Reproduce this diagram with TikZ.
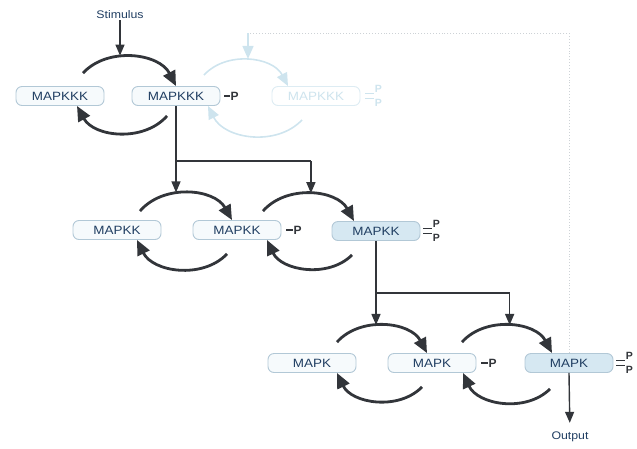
\documentclass[tikz,border=0pt]{standalone}
\usepackage{fontspec}
\setmainfont{Liberation Sans}
\newfontfamily\boxfont[FakeStretch=1.12]{Liberation Sans}
\usepackage{tikz}
\usetikzlibrary{arrows.meta, positioning, calc}
\definecolor{cText}{RGB}{32,62,98}
\definecolor{cEdge}{RGB}{178,200,214}
\definecolor{cFill}{RGB}{246,250,252}
\definecolor{cPhos}{RGB}{214,232,242}
\definecolor{cArc}{RGB}{50,53,58}
\definecolor{cFade}{RGB}{206,228,238}
\definecolor{cDot}{RGB}{205,210,214}
\tikzset{
	kinase/.style  ={rectangle, rounded corners=6pt, draw=cEdge, line width=0.9pt, fill=cFill, minimum width=88pt, minimum height=19pt, inner sep=0pt, text=cText, font=\boxfont\fontsize{12}{12}\selectfont},
	active/.style  ={kinase, fill=cPhos},
	faded/.style   ={kinase, draw=cFade!70, fill=white, text=cFade},
	cycarrow/.style={-{Triangle[length=15pt,width=13pt]}, line width=2.8pt, cArc, bend left=55},
	sig/.style     ={-{Triangle[length=11pt,width=9pt]}, line width=1.4pt, cArc},
	wire/.style    ={line width=1.4pt, cArc},
	bond/.style    ={line width=1.6pt, cArc},
	phos/.style    ={inner sep=0pt, text=cArc, font=\fontsize{12}{12}\selectfont\bfseries},
	diphos/.style  ={inner sep=0pt, text=cArc, font=\fontsize{10.5}{10.5}\selectfont\bfseries},
	tag/.style     ={inner sep=1pt, text=cText, font=\boxfont\fontsize{11}{11}\selectfont},
	% faint feedback part
	fadearrow/.style={-{Triangle[length=13pt,width=11pt]}, line width=1.6pt, cFade, bend left=55},
	feedback/.style ={cDot, line width=0.9pt, dotted},
}
\begin{document}
\begin{tikzpicture}[x=1pt, y=1pt]
	\useasboundingbox (0,0) rectangle (637,-448);

	% MAPKKK level
	\node[tag] (stim) at (120,-15) {Stimulus};
	\node[kinase] (kkk1) at (60,-96)  {MAPKKK};
	\node[kinase] (kkk2) at (176,-96) {MAPKKK};
	\node[phos] (pkkk) [right=10pt of kkk2] {P};
	\draw[bond] ([xshift=4pt]kkk2.east) -- (pkkk);
	\node[faded] (kkk3) at (316,-96) {MAPKKK};
	\draw[cycarrow] ([shift={(23,13)}]kkk1.north) to node[coordinate, pos=0.42] (m1) {} (kkk2.north);
	\draw[cycarrow] ([shift={(-9,-10)}]kkk2.south) to ([xshift=17]kkk1.south);
	\draw[sig, shorten >=1pt] (stim) -- (stim |- m1);

	% MAPKK level
	\node[kinase] (kk1) at (117,-230) {MAPKK};
	\node[kinase] (kk2) at (237,-230) {MAPKK};
	\node[phos] (pkk) [right=12pt of kk2] {P};
	\draw[bond] ([xshift=5pt]kk2.east) -- (pkk);
	\node[active] (kk3) at (376,-231) {MAPKK};
	\foreach \s/\n in {1/a,-1/b} {
		\node[diphos] (kkP\n) at ($(kk3.east)+(16,7*\s)$) {P};
		\draw[bond, line width=1.3pt] ([shift={(3,2.6*\s)}]kk3.east) -- ++(9,0);
	}
	\draw[cycarrow] ([shift={(23,9)}]kk1.north) to node[coordinate, pos=0.5] (m2) {} ([xshift=-5]kk2.north);
	\draw[cycarrow] ([shift={(-10,-14)}]kk2.south) to ([xshift=20]kk1.south);
	\draw[cycarrow] ([shift={(26,9)}]kk2.north) to node[coordinate, pos=0.5] (m3) {} ([xshift=-22]kk3.north);
	\draw[cycarrow] ([shift={(-24,-14)}]kk3.south) to ([xshift=30]kk2.south);
	\coordinate (j1) at (kkk2.south |- 0,-161);
	\draw[wire] (kkk2.south) -- (j1) -- (j1 -| m3);
	\draw[sig, shorten >=1pt] (j1) -- (j1 |- m2);
	\draw[sig, shorten >=1pt] (j1 -| m3) -- (m3);

	% MAPK level
	\node[kinase] (k1) at (312,-363) {MAPK};
	\node[kinase] (k2) at (432,-363) {MAPK};
	\node[phos] (pk) [right=12pt of k2] {P};
	\draw[bond] ([xshift=5pt]k2.east) -- (pk);
	\node[active] (k3) at (569,-363) {MAPK};
	\foreach \s/\n in {1/a,-1/b} {
		\node[diphos] (kP\n) at ($(k3.east)+(16,7*\s)$) {P};
		\draw[bond, line width=1.3pt] ([shift={(3,2.6*\s)}]k3.east) -- ++(9,0);
	}
	\draw[cycarrow] ([shift={(25,11)}]k1.north) to node[coordinate, pos=0.5] (m4) {} ([xshift=-5]k2.north);
	\draw[cycarrow] ([shift={(-10,-14)}]k2.south) to ([xshift=25]k1.south);
	\draw[cycarrow] ([shift={(30,11)}]k2.north) to node[coordinate, pos=0.5] (m5) {} ([xshift=-17]k3.north);
	\draw[cycarrow] ([shift={(-19,-16)}]k3.south) to ([xshift=31]k2.south);
	\coordinate (j2) at (kk3.south |- 0,-293);
	\draw[wire] (kk3.south) -- (j2) -- (j2 -| m5);
	\draw[sig, shorten >=1pt] (j2) -- (j2 |- m4);
	\draw[sig, shorten >=1pt] (j2 -| m5) -- (m5);
	\node[tag] (out) at (570,-437) {Output};
	\draw[sig, shorten >=8pt] (k3.south) -- (out);

	% feedback, printed faintly
	\coordinate (fb) at (248,-33);
	\draw[feedback] (k3.north) |- (fb);
	\draw[fadearrow] ([shift={(28,11)}]kkk2.north) to node[coordinate, pos=0.45] (fm) {} ([xshift=-28]kkk3.north);
	\draw[fadearrow] ([shift={(-14,-14)}]kkk3.south) to ([xshift=32]kkk2.south);
	\draw[fadearrow, shorten >=1pt] (fb) -- (fb |- fm);
	\foreach \s/\n in {1/a,-1/b} {
		\node[diphos, text=cFade] (fP\n) at ($(kkk3.east)+(18,7*\s)$) {P};
		\draw[bond, cFade, line width=1.3pt] ([shift={(5,2.6*\s)}]kkk3.east) -- ++(9,0);
	}
\end{tikzpicture}
\end{document}
